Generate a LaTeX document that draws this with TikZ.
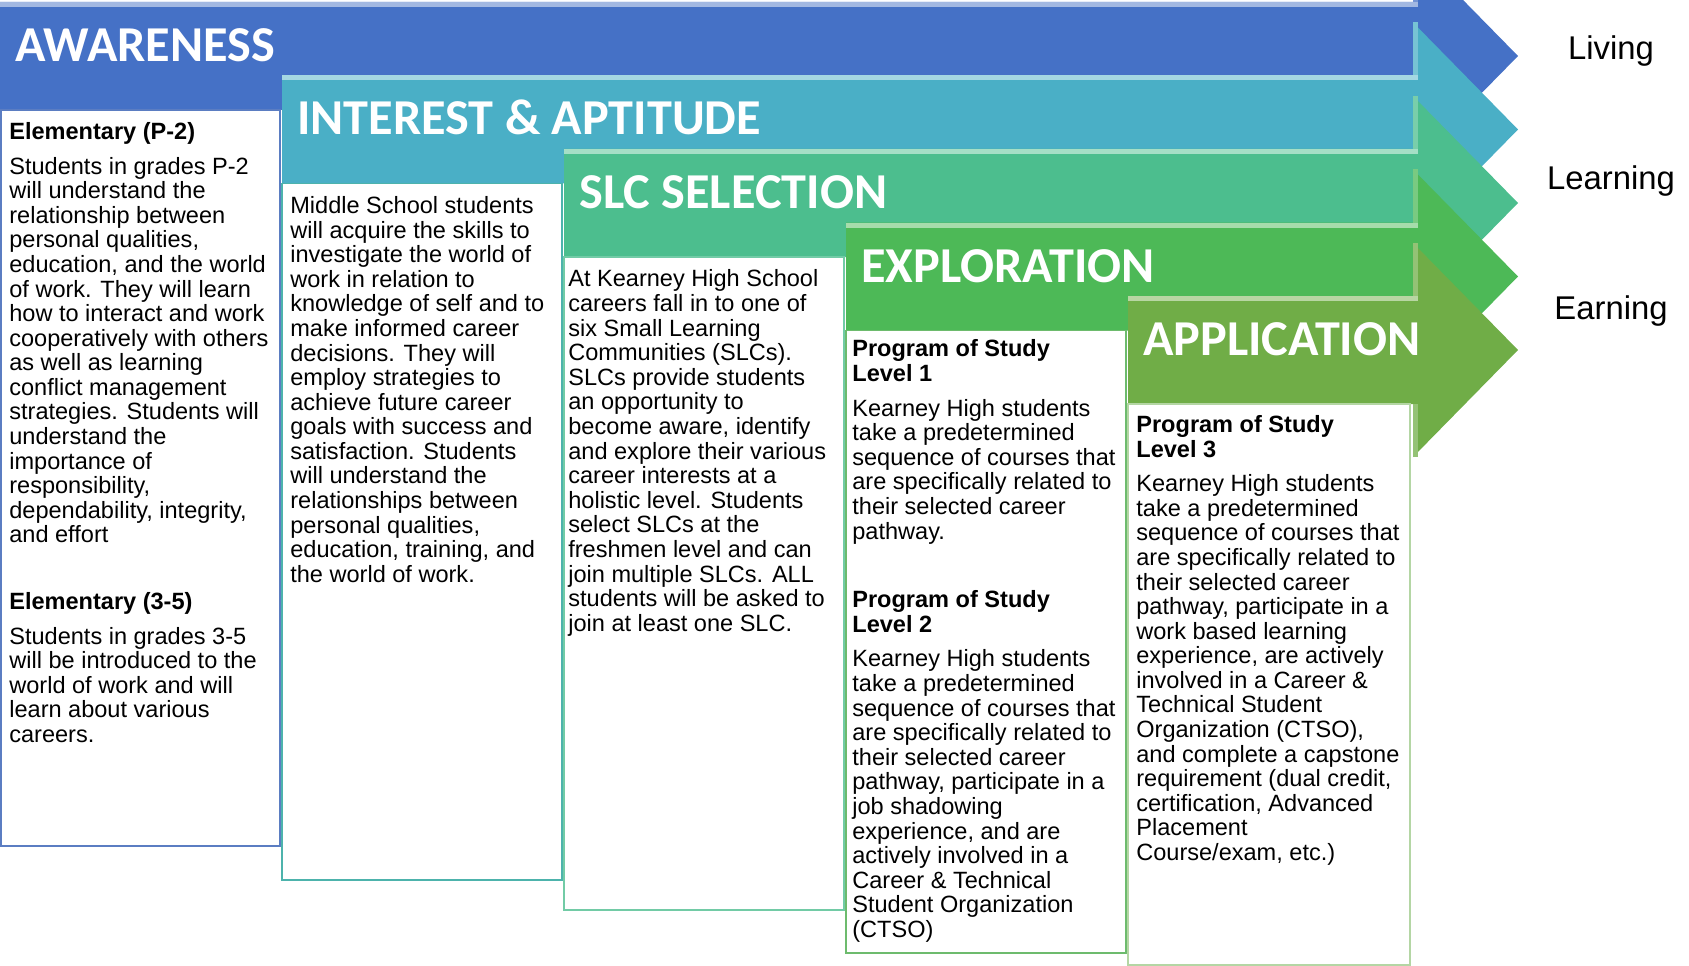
\documentclass[tikz,border=0pt]{standalone}
\usepackage{fontspec}
\setmainfont{Liberation Sans}
\newfontfamily\bandfont{Carlito}
\definecolor{awblue}{HTML}{4571C6}
\definecolor{iateal}{HTML}{4AAFC6}
\definecolor{slcgreen}{HTML}{4CBE8E}
\definecolor{expgreen}{HTML}{4DB957}
\definecolor{appgreen}{HTML}{70AD47}
\definecolor{awframe}{HTML}{5B7DC2}
\definecolor{iaframe}{HTML}{4DB3AC}
\definecolor{slcframe}{HTML}{72CBA6}
\definecolor{expframe}{HTML}{6DBB6D}
\definecolor{appframe}{HTML}{B4D6A4}
\begin{document}
\begin{tikzpicture}[x=0.02cm, y=-0.02cm,
    bandtitle/.style={font=\bandfont\bfseries\fontsize{28.6}{30}\selectfont, text=white, anchor=base west, inner sep=0pt},
    bodytext/.style={font=\fontsize{13.4}{14}\selectfont, align=left, anchor=north west, inner sep=0pt},
    sidelabel/.style={font=\fontsize{18.7}{20}\selectfont, inner sep=0pt},
    boxframe/.style={draw=#1, line width=1.1pt, fill=white}]
  \useasboundingbox (0,0) rectangle (1689,966);
  \clip (0,0) rectangle (1689,966);
  % the five arrows, each one lies over the one before
  \foreach \k/\col/\nm/\ttl in {0/awblue/awareness/AWARENESS,
      1/iateal/interest/INTEREST \& APTITUDE,
      2/slcgreen/slcsel/SLC SELECTION,
      3/expgreen/exploration/EXPLORATION,
      4/appgreen/application/APPLICATION}{
    \pgfmathsetmacro\L{282*\k}
    \pgfmathsetmacro\T{2+73.5*\k}
    \pgfmathsetmacro\C{\T+54}
    \fill[\col] (\L,\T) -- (1413,\T) -- (1413,\C-107) -- (1518,\C)
      -- (1413,\C+107) -- (1413,\T+108) -- (\L,\T+108) -- cycle;
    \fill[\col!50!white] (\L,\T) rectangle (1418,\T+5);
    \fill[\col!75!white] (1413,\C-107) rectangle (1418,\T);
    \fill[\col!75!white] (1413,\T+108) rectangle (1418,\C+107);
    \node[bandtitle] (\nm) at (\L+15,\T+59.5) {\ttl};
  }
  % boxes under the arrows
  \draw[boxframe=awframe] (1,110) rectangle (280,846);
  \draw[boxframe=iaframe] (282,183.5) rectangle (562,880);
  \draw[boxframe=slcframe] (564,257) rectangle (844,910);
  \draw[boxframe=expframe] (846,330.5) rectangle (1126,953);
  \draw[boxframe=appframe] (1128,404) rectangle (1410,965);

  \node[bodytext] (elemtext) at (9,122) {\textbf{Elementary (P-2)}\\[0.2cm]
    Students in grades P-2\\ will understand the\\ relationship between\\
    personal qualities,\\ education, and the world\\ of work. They will learn\\
    how to interact and work\\ cooperatively with others\\ as well as learning\\
    conflict management\\ strategies. Students will\\ understand the\\
    importance of\\ responsibility,\\ dependability, integrity,\\ and effort\\[0.84cm]
    \textbf{Elementary (3-5)}\\[0.2cm]
    Students in grades 3-5\\ will be introduced to the\\ world of work and will\\
    learn about various\\ careers.};
  \node[bodytext] (middletext) at (290,196) {Middle School students\\
    will acquire the skills to\\ investigate the world of\\ work in relation to\\
    knowledge of self and to\\ make informed career\\ decisions. They will\\
    employ strategies to\\ achieve future career\\ goals with success and\\
    satisfaction. Students\\ will understand the\\ relationships between\\
    personal qualities,\\ education, training, and\\ the world of work.};
  \node[bodytext] (slctext) at (568,269.5) {At Kearney High School\\
    careers fall in to one of\\ six Small Learning\\ Communities (SLCs).\\
    SLCs provide students\\ an opportunity to\\ become aware, identify\\
    and explore their various\\ career interests at a\\ holistic level. Students\\
    select SLCs at the\\ freshmen level and can\\ join multiple SLCs. ALL\\
    students will be asked to\\ join at least one SLC.};
  \node[bodytext] (exptext) at (852,339.5) {\textbf{Program of Study}\\ \textbf{Level 1}\\[0.2cm]
    Kearney High students\\ take a predetermined\\ sequence of courses that\\
    are specifically related to\\ their selected career\\ pathway.\\[0.88cm]
    \textbf{Program of Study}\\ \textbf{Level 2}\\[0.2cm]
    Kearney High students\\ take a predetermined\\ sequence of courses that\\
    are specifically related to\\ their selected career\\ pathway, participate in a\\
    job shadowing\\ experience, and are\\ actively involved in a\\
    Career \& Technical\\ Student Organization\\ (CTSO)};
  \node[bodytext] (apptext) at (1136,415) {\textbf{Program of Study}\\ \textbf{Level 3}\\[0.2cm]
    Kearney High students\\ take a predetermined\\ sequence of courses that\\
    are specifically related to\\ their selected career\\ pathway, participate in a\\
    work based learning\\ experience, are actively\\ involved in a Career \&\\
    Technical Student\\ Organization (CTSO),\\ and complete a capstone\\
    requirement (dual credit,\\ certification, Advanced\\ Placement\\
    Course/exam, etc.)};

  % labels beside the arrow heads
  \node[sidelabel] (living) at (1611,51) {Living};
  \node[sidelabel] (learning) at (1611,181) {Learning};
  \node[sidelabel] (earning) at (1611,311) {Earning};
\end{tikzpicture}
\end{document}
